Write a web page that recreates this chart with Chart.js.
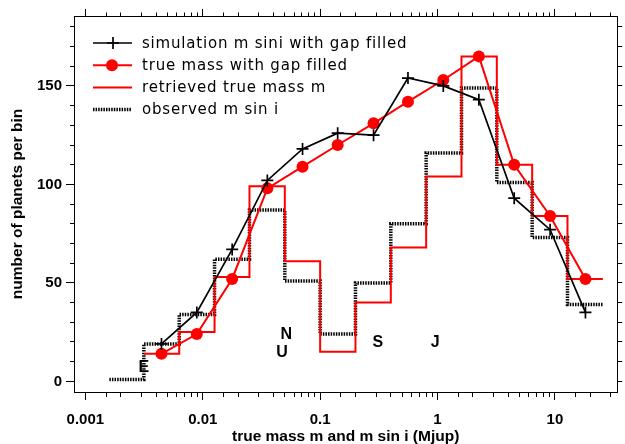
<!DOCTYPE html>
<html>
<head>
<meta charset="utf-8">
<script src="https://cdn.jsdelivr.net/npm/chart.js@4.4.1/dist/chart.umd.min.js"></script>
<style>
  html, body { margin: 0; padding: 0; background: #fff; }
  #wrap { width: 625px; height: 444px; }
</style>
</head>
<body>
<div id="wrap"><canvas id="massChart" width="625" height="444"></canvas></div>
<script>
'use strict';

// bin centres (Mjup) used by the two marker curves
const binCenters     = [0.00445, 0.0089, 0.0178, 0.0355, 0.0708, 0.141, 0.285, 0.56, 1.12, 2.25, 4.5, 9.1, 18.2];
const simMsini       = [19, 35, 67, 102, 118, 126, 125, 154, 150, 143, 93, 77, 35];
const trueMassFilled = [14, 24, 52, 98, 109, 120, 131, 142, 153, 165, 110, 84, 52];

// histograms: bin edges and counts per bin
const retrievedEdges  = [0.00315, 0.0063, 0.0126, 0.025, 0.05, 0.1, 0.2, 0.4, 0.8, 1.6, 3.2, 6.4, 12.8, 25.6];
const retrievedCounts = [14, 25, 53, 99, 61, 15, 40, 68, 104, 165, 110, 84, 52];
const observedEdges   = [0.0016, 0.00315, 0.0063, 0.0126, 0.025, 0.05, 0.1, 0.2, 0.4, 0.8, 1.6, 3.2, 6.4, 12.8, 25.6];
const observedCounts  = [1, 19, 34, 62, 87, 51, 24, 50, 80, 116, 149, 101, 73, 39];

// axis labels
const xTickLabels = [0.001, 0.01, 0.1, 1, 10];
const yTickLabels = [0, 50, 100, 150];

// solar system planets marked on the plot
const planetNames  = ['E', 'U', 'N', 'S', 'J'];
const planetMass   = [0.00315, 0.0474, 0.0515, 0.31, 0.953];
const planetHeight = [7, 14.6, 23.7, 19.6, 19.6];

const FONT = "'Liberation Sans', Arial, Helvetica, sans-serif";

function steps(edges, counts) {
    const pts = counts.map((c, i) => ({ x: edges[i], y: c }));
    pts.push({ x: edges[edges.length - 1], y: counts[counts.length - 1] });
    return pts;
}

const isDecade = v => {
    const l = Math.log10(v);
    return Math.abs(l - Math.round(l)) < 1e-6;
};
const isFifty = v => Math.abs(v % 50) < 1e-6;

// outer tick marks; minor ones shortened with a dash pattern
function tickGrid(pos, isMajor, len, minorLen, inRange) {
    const startAtBorder = pos === 'bottom' || pos === 'right';
    return {
        display: true,
        drawOnChartArea: false,
        drawTicks: true,
        tickLength: len,
        tickWidth: 1,
        tickColor: ctx => (!ctx.tick || inRange(ctx.tick.value)) ? '#000' : 'rgba(0,0,0,0)',
        tickBorderDash: ctx => (ctx.tick && !isMajor(ctx.tick.value)) ? [minorLen, len] : [],
        // line runs outer end -> border on left/top, so skip the outer part
        tickBorderDashOffset: ctx => (ctx.tick && !isMajor(ctx.tick.value) && !startAtBorder) ? 2 * minorLen : 0,
    };
}

const xMin = 0.0008, xMax = 34;
const yMin = -5.4, yMax = 185.5;
const xIn = v => v > 0.00099 && v < 31;
const yIn = () => true;

const border = { display: true, color: '#000', width: 1 };

const legendPlugin = {
    id: 'insideLegend',
    afterDraw(chart) {
        const ctx = chart.ctx;
        const rows = chart.data.datasets;
        ctx.save();
        rows.forEach((ds, i) => {
            const y = 43 + i * 22.2;
            ctx.strokeStyle = ds.borderColor;
            ctx.lineWidth = ds.borderWidth;
            ctx.setLineDash(ds.borderDash || []);
            ctx.beginPath();
            ctx.moveTo(93, y);
            ctx.lineTo(132, y);
            ctx.stroke();
            ctx.setLineDash([]);
            if (ds.pointRadius) {
                if (ds.pointStyle === 'cross') {
                    ctx.lineWidth = ds.pointBorderWidth;
                    ctx.beginPath();
                    ctx.moveTo(113 - ds.pointRadius, y); ctx.lineTo(113 + ds.pointRadius, y);
                    ctx.moveTo(113, y - ds.pointRadius); ctx.lineTo(113, y + ds.pointRadius);
                    ctx.stroke();
                } else {
                    ctx.fillStyle = ds.pointBackgroundColor;
                    ctx.beginPath();
                    ctx.arc(112, y, ds.pointRadius, 0, Math.PI * 2);
                    ctx.fill();
                }
            }
            ctx.fillStyle = '#000';
            ctx.font = "15px 'DejaVu Sans', sans-serif";
            ctx.letterSpacing = '0.8px';
            ctx.textBaseline = 'alphabetic';
            ctx.textAlign = 'left';
            ctx.fillText(ds.label, 142, y + 4.6);
            ctx.letterSpacing = '0px';
        });
        ctx.restore();
    },
};

const planetPlugin = {
    id: 'planetLetters',
    beforeDatasetsDraw(chart) {
        const ctx = chart.ctx;
        const xs = chart.scales.x, ys = chart.scales.y;
        ctx.save();
        ctx.fillStyle = '#000';
        ctx.font = 'bold 16px ' + FONT;
        ctx.textAlign = 'center';
        ctx.textBaseline = 'middle';
        planetNames.forEach((n, i) => {
            ctx.fillText(n, xs.getPixelForValue(planetMass[i]), ys.getPixelForValue(planetHeight[i]));
        });
        ctx.restore();
    },
};

Chart.defaults.font.family = FONT;
Chart.defaults.color = '#000';

new Chart(document.getElementById('massChart').getContext('2d'), {
    type: 'line',
    data: {
        datasets: [
            {
                label: 'simulation m sini with gap filled',
                data: binCenters.map((x, i) => ({ x, y: simMsini[i] })),
                borderColor: '#000',
                borderWidth: 1.7,
                pointStyle: 'cross',
                pointRadius: 6,
                pointBorderWidth: 1.7,
                pointBorderColor: '#000',
                pointBackgroundColor: '#000',
                tension: 0,
            },
            {
                label: 'true mass with gap filled',
                data: binCenters.map((x, i) => ({ x, y: trueMassFilled[i] })),
                borderColor: '#ff0000',
                borderWidth: 2,
                pointStyle: 'circle',
                pointRadius: 6,
                pointBorderWidth: 0,
                pointBackgroundColor: '#ff0000',
                tension: 0,
            },
            {
                label: 'retrieved true mass m',
                data: steps(retrievedEdges, retrievedCounts),
                borderColor: '#ff0000',
                borderWidth: 2,
                pointRadius: 0,
                stepped: true,
            },
            {
                label: 'observed m sin i',
                data: steps(observedEdges, observedCounts),
                borderColor: '#000',
                borderWidth: 3.5,
                borderDash: [1.5, 1.1],
                borderCapStyle: 'butt',
                pointRadius: 0,
                stepped: true,
            },
        ],
    },
    options: {
        responsive: false,
        animation: false,
        devicePixelRatio: 1,
        layout: { padding: 0 },
        plugins: {
            legend: { display: false },
            tooltip: { enabled: false },
        },
        scales: {
            x: {
                type: 'logarithmic',
                position: 'bottom',
                min: xMin, max: xMax,
                border,
                grid: tickGrid('bottom', isDecade, 8, 4, xIn),
                ticks: {
                    autoSkip: false,
                    maxRotation: 0,
                    padding: 11,
                    font: { size: 15, weight: 'bold' },
                    callback: v => {
                        const d = xTickLabels.find(t => Math.abs(t - v) / t < 1e-6);
                        return d === undefined ? '' : String(d);
                    },
                },
                title: {
                    display: true,
                    text: 'true mass m and m sin i (Mjup)',
                    font: { size: 15.5, weight: 'bold', lineHeight: 1.0 },
                    padding: { top: 0, bottom: 0 },
                },
                // fixed box; drop the side padding the label gap would add
                afterFit: s => { s.height = 52; s.paddingLeft = 0; s.paddingRight = 0; },
            },
            x2: {
                type: 'logarithmic',
                position: 'top',
                min: xMin, max: xMax,
                border,
                grid: tickGrid('top', isDecade, 7, 3.5, xIn),
                ticks: { display: false, autoSkip: false },
                afterFit: s => { s.height = 16; s.paddingLeft = 0; s.paddingRight = 0; },
            },
            y: {
                type: 'linear',
                position: 'left',
                min: yMin, max: yMax,
                border,
                grid: tickGrid('left', isFifty, 8, 4, yIn),
                ticks: {
                    stepSize: 10,
                    includeBounds: false,
                    autoSkip: false,
                    padding: 4,
                    font: { size: 15, weight: 'bold' },
                    callback: v => yTickLabels.includes(v) ? String(v) : '',
                },
                title: {
                    display: true,
                    text: 'number of planets per bin',
                    font: { size: 15.5, weight: 'bold' },
                    padding: { top: 8, bottom: 0 },
                },
                afterFit: s => { s.width = 74; },
            },
            y2: {
                type: 'linear',
                position: 'right',
                min: yMin, max: yMax,
                border,
                grid: tickGrid('right', () => true, 5, 5, yIn),
                ticks: { display: false, stepSize: 10, includeBounds: false },
                afterFit: s => { s.width = 7; },
            },
        },
    },
    plugins: [planetPlugin, legendPlugin],
});
</script>
</body>
</html>
